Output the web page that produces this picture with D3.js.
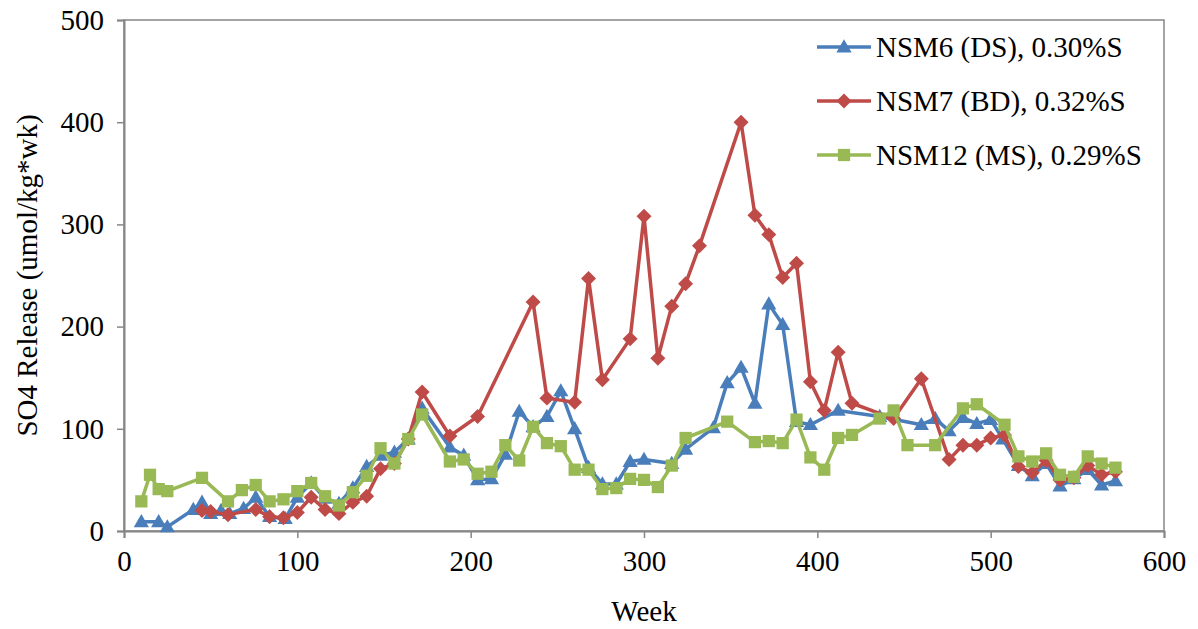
<!DOCTYPE html>
<html>
<head>
<meta charset="utf-8">
<script src="https://cdn.jsdelivr.net/npm/d3@7"></script>
<style>
  html, body { margin: 0; padding: 0; background: #fff; }
  svg { display: block; font-family: "Liberation Serif", "Times New Roman", serif; }
</style>
</head>
<body>
<svg id="chart" width="1198" height="629"></svg>
<script>
// NSM6 (DS) sulfate release by week
const nsm6Weeks = [10, 20, 25, 40, 45, 50, 56, 61, 69, 76, 84, 93, 100, 108, 116, 124, 132, 140, 148, 156, 164, 172, 188, 196, 204, 212, 220, 228, 236, 244, 252, 260, 268, 276, 284, 292, 300, 316, 324, 340, 348, 356, 364, 372, 380, 388, 396, 412, 436, 460, 468, 476, 484, 492, 500, 507, 516, 524, 532, 540, 548, 556, 564, 572];
const nsm6Values = [9, 9, 4, 21, 28, 17, 20, 17, 22, 33, 14, 12, 33, 47, 32, 27, 42, 63, 74, 77, 90, 120, 82, 74, 50, 51, 75, 117, 102, 112, 137, 100, 62, 46, 46, 68, 70, 66, 80, 101, 145, 160, 125, 222, 202, 107, 104, 118, 112, 104, 110, 98, 111, 105, 109, 90, 64, 54, 66, 44, 51, 60, 45, 49];

// NSM7 (BD) sulfate release by week
const nsm7Weeks = [45, 50, 60, 76, 84, 92, 100, 108, 116, 124, 132, 140, 148, 156, 164, 172, 188, 204, 236, 244, 260, 268, 276, 292, 300, 308, 316, 324, 332, 356, 364, 372, 380, 388, 396, 404, 412, 420, 444, 460, 476, 484, 492, 500, 508, 516, 524, 532, 540, 548, 556, 564, 572];
const nsm7Values = [20, 19, 16, 21, 14, 13, 18, 33, 21, 17, 28, 34, 61, 66, 90, 136, 93, 112, 224, 130, 126, 247, 148, 188, 308, 169, 220, 242, 279, 400, 309, 290, 248, 262, 146, 118, 175, 125, 110, 149, 70, 84, 84, 91, 94, 63, 57, 69, 50, 52, 64, 55, 58];

// NSM12 (MS) sulfate release by week
const nsm12Weeks = [10, 15, 20, 25, 45, 60, 68, 76, 84, 92, 100, 108, 116, 124, 132, 140, 148, 156, 164, 172, 188, 196, 204, 212, 220, 228, 236, 244, 252, 260, 268, 276, 284, 292, 300, 308, 316, 324, 348, 364, 372, 380, 388, 396, 404, 412, 420, 436, 444, 452, 468, 484, 492, 508, 516, 524, 532, 540, 548, 556, 564, 572];
const nsm12Values = [29, 55, 41, 39, 52, 29, 40, 45, 29, 31, 39, 47, 34, 25, 38, 54, 81, 66, 90, 114, 68, 70, 56, 58, 84, 69, 102, 86, 83, 60, 60, 41, 42, 51, 50, 43, 64, 91, 107, 87, 88, 86, 109, 72, 60, 91, 94, 110, 118, 84, 84, 120, 124, 104, 73, 68, 76, 55, 53, 73, 66, 62];

const seriesNames = ["NSM6 (DS), 0.30%S", "NSM7 (BD), 0.32%S", "NSM12 (MS), 0.29%S"];
const xTicks = [0, 100, 200, 300, 400, 500, 600];
const yTicks = [0, 100, 200, 300, 400, 500];
const xTitle = "Week";
const yTitle = "SO4 Release (umol/kg*wk)";

const series = [
  { name: seriesNames[0], weeks: nsm6Weeks, values: nsm6Values, color: "#4A7EBB", symbol: "triangle" },
  { name: seriesNames[1], weeks: nsm7Weeks, values: nsm7Values, color: "#BE4B48", symbol: "diamond" },
  { name: seriesNames[2], weeks: nsm12Weeks, values: nsm12Values, color: "#98B954", symbol: "square" }
];

const svg = d3.select("#chart");
const margin = { left: 124, right: 34, top: 20, bottom: 98 };
const W = 1198, H = 629;
const x = d3.scaleLinear().domain([0, 600]).range([margin.left, W - margin.right]);
const y = d3.scaleLinear().domain([0, 500]).range([H - margin.bottom, margin.top]);
const axisColor = "#868686";
const fontSize = 29;

// plot area frame
svg.append("rect")
  .attr("x", x(0)).attr("y", y(500))
  .attr("width", x(600) - x(0)).attr("height", y(0) - y(500))
  .attr("fill", "none").attr("stroke", axisColor).attr("stroke-width", 1.5);

// axes
const xAxis = svg.append("g")
  .attr("transform", `translate(0,${y(0)})`)
  .call(d3.axisBottom(x).tickValues(xTicks).tickSize(7).tickPadding(12).tickFormat(d3.format("d")));
const yAxis = svg.append("g")
  .attr("transform", `translate(${x(0)},0)`)
  .call(d3.axisLeft(y).tickValues(yTicks).tickSize(7).tickPadding(13).tickFormat(d3.format("d")));

[xAxis, yAxis].forEach(g => {
  g.select(".domain").attr("stroke", axisColor).attr("stroke-width", 2);
  g.selectAll(".tick line").attr("stroke", axisColor).attr("stroke-width", 1.5);
  g.selectAll(".tick text")
    .attr("fill", "#000")
    .style("font-family", "'Liberation Serif', 'Times New Roman', serif")
    .style("font-size", fontSize + "px");
});

// axis titles
svg.append("text")
  .attr("x", (x(0) + x(600)) / 2).attr("y", 621)
  .attr("text-anchor", "middle")
  .style("font-size", fontSize + "px")
  .text(xTitle);
svg.append("text")
  .attr("transform", `translate(37,${(y(0) + y(500)) / 2}) rotate(-90)`)
  .attr("text-anchor", "middle")
  .style("font-size", fontSize + "px")
  .text(yTitle);

// marker shapes
function markerPath(kind) {
  if (kind === "triangle") return d3.symbol().type(d3.symbolTriangle).size(100)();
  if (kind === "diamond") return d3.symbol().type(d3.symbolSquare).size(112)();
  return d3.symbol().type(d3.symbolSquare).size(150)();
}
function markerRotate(kind) { return kind === "diamond" ? " rotate(45)" : ""; }
function markerOffset(kind) { return kind === "triangle" ? 1 : 0; }

const line = d3.line().x(d => x(d[0])).y(d => y(d[1]));

series.forEach(s => {
  const pts = s.weeks.map((w, i) => [w, s.values[i]]);
  const g = svg.append("g");
  g.append("path")
    .datum(pts)
    .attr("d", line)
    .attr("fill", "none")
    .attr("stroke", s.color)
    .attr("stroke-width", 3.5)
    .attr("stroke-linejoin", "round");
  g.selectAll("path.mk")
    .data(pts)
    .join("path")
    .attr("class", "mk")
    .attr("d", markerPath(s.symbol))
    .attr("transform", d => `translate(${x(d[0])},${y(d[1]) + markerOffset(s.symbol)})${markerRotate(s.symbol)}`)
    .attr("fill", s.color);
});

// legend
const legend = svg.append("g");
series.forEach((s, i) => {
  const cy = 47 + i * 54;
  legend.append("line")
    .attr("x1", 817).attr("x2", 871).attr("y1", cy).attr("y2", cy)
    .attr("stroke", s.color).attr("stroke-width", 3.5);
  legend.append("path")
    .attr("d", markerPath(s.symbol))
    .attr("transform", `translate(844,${cy + markerOffset(s.symbol)})${markerRotate(s.symbol)}`)
    .attr("fill", s.color);
  legend.append("text")
    .attr("x", 876).attr("y", cy)
    .attr("dy", "0.35em")
    .style("font-size", fontSize + "px")
    .text(s.name);
});
</script>
</body>
</html>
